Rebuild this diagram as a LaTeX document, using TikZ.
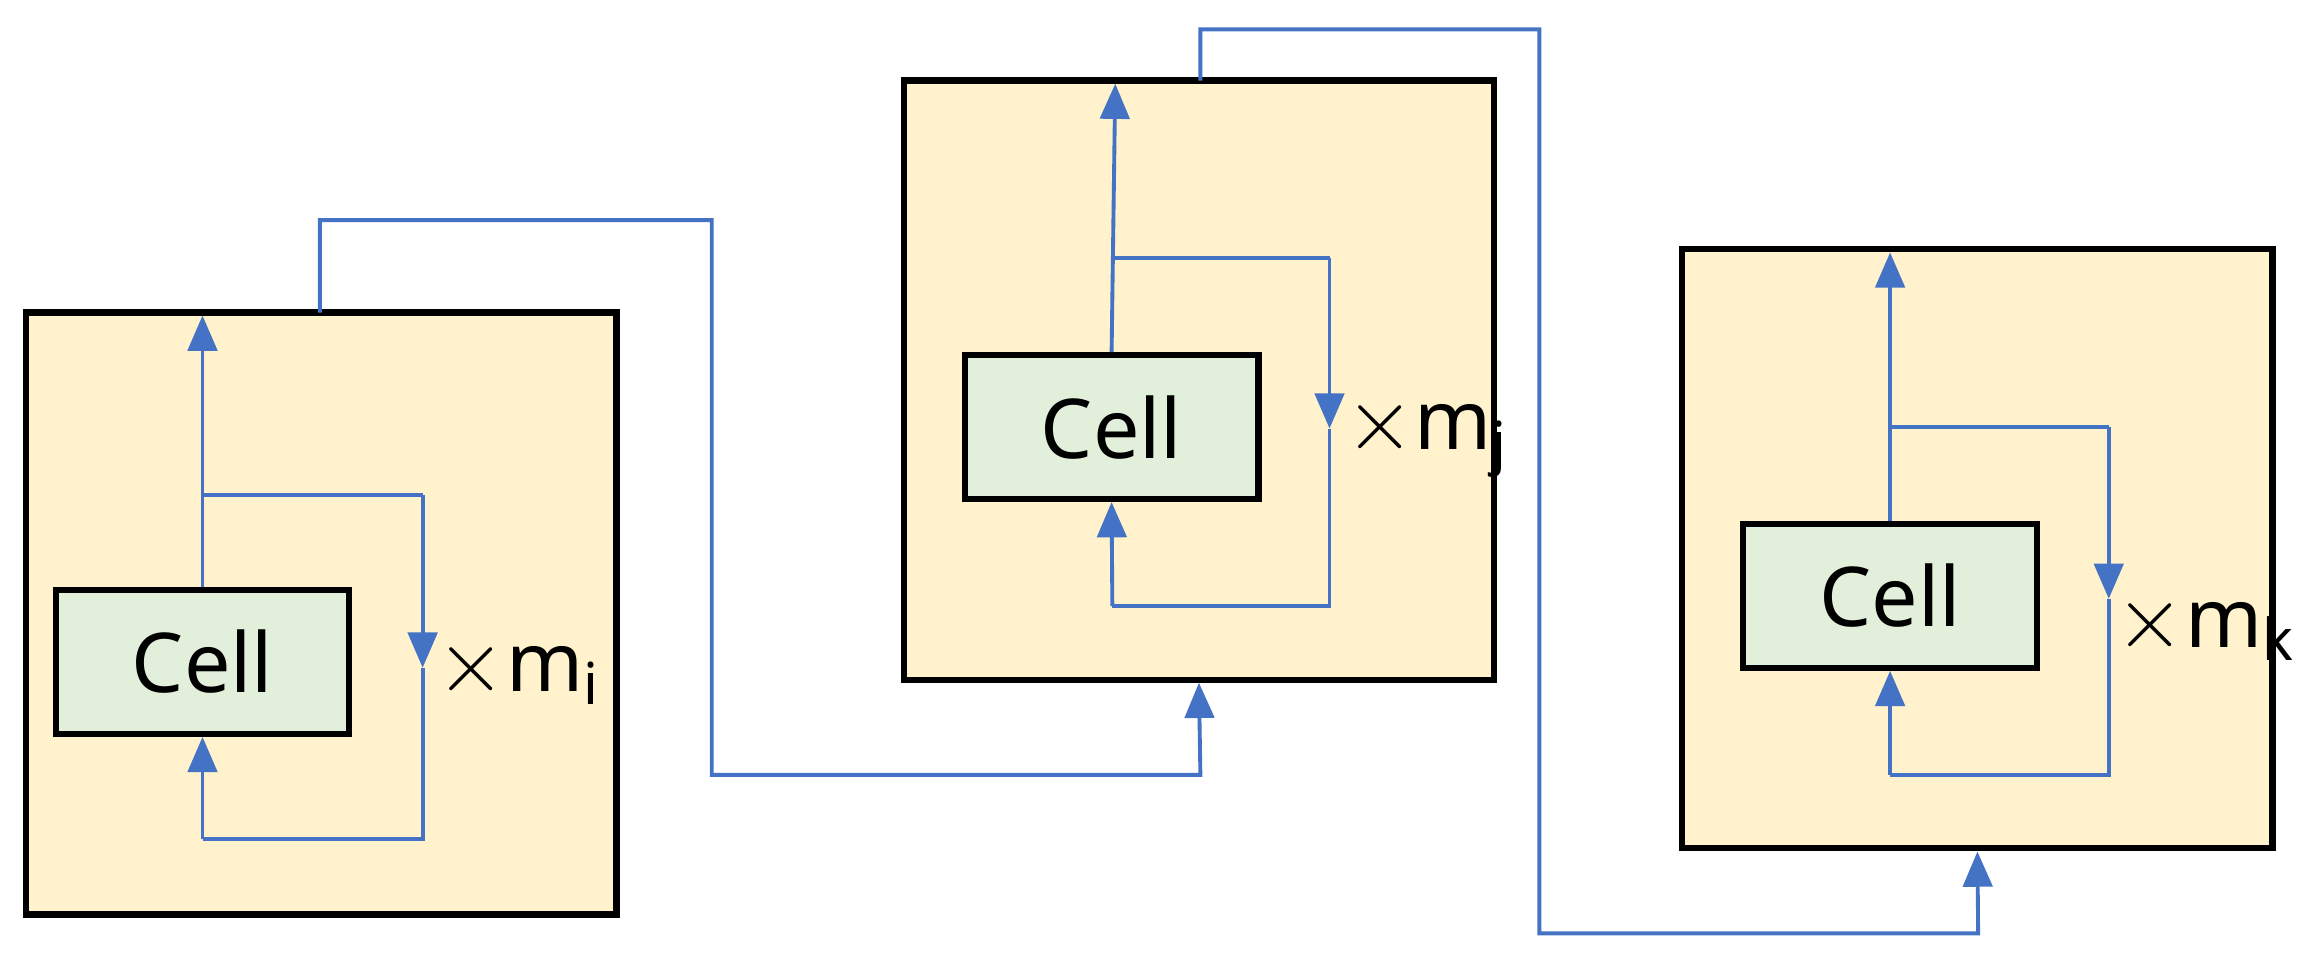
\documentclass[tikz,border=0pt]{standalone}
\usepackage{fontspec}
\setmainfont{Noto Sans}
\usetikzlibrary{arrows.meta}
\definecolor{boxfill}{HTML}{FFF2CC}
\definecolor{cellfill}{HTML}{E2EFDA}
\definecolor{linkblue}{HTML}{4472C4}
\tikzset{
  block/.style={draw=black, line width=1.2pt, fill=boxfill, minimum width=4.02cm, minimum height=4.10cm, inner sep=0pt},
  cell/.style={draw=black, line width=1.2pt, fill=cellfill, minimum width=2.0cm, minimum height=0.98cm, inner sep=0pt, font=\fontsize{16}{19}\selectfont},
  link/.style={draw=linkblue, line width=0.75pt},
  tip/.style={-{Triangle[length=0.24cm,width=0.2cm]}},
  rep/.style={font=\fontsize{16}{19}\selectfont, anchor=west, inner sep=0pt}
}
\begin{document}
\begin{tikzpicture}[x=0.01cm, y=-0.01cm]
\useasboundingbox (0,0) rectangle (1568,656);

% three blocks
\node[block] (blocki) at (219,418) {};
\node[block, minimum height=4.08cm] (blockj) at (817,259) {};
\node[block, minimum height=4.08cm] (blockk) at (1347.5,374) {};

% cells
\node[cell] (celli) at (138,451) {Cell};
\node[cell] (cellj) at (757.5,291) {Cell};
\node[cell] (cellk) at (1288,406) {Cell};

% labels
\node[rep] (repi) at (297,458) {$\times$m\textsubscript{i}};
\node[rep] (repj) at (916,298) {$\times$m\textsubscript{j}};
\node[rep] (repk) at (1441,428) {$\times$m\textsubscript{k}};

% loop of block i
\coordinate (brI) at (138,337);
\draw[link, tip] (celli.north) -- (138,215);
\draw[link] (brI) -- (288,337);
\draw[link, tip] (288,337) -- (288,455);
\draw[link] (288,455) -- (288,572) -- (138,572);
\draw[link, tip] (138,572) -- (celli.south);

% loop of block j
\draw[link, tip] (cellj.north) -- (760,57);
\draw[link] (758,176) -- (906,176);
\draw[link, tip] (906,176) -- (906,292);
\draw[link] (906,292) -- (906,413) -- (758,413);
\draw[link, tip] (758,413) -- (cellj.south);

% loop of block k
\draw[link, tip] (cellk.north) -- (1288,172);
\draw[link] (1288,291) -- (1437,291);
\draw[link, tip] (1437,291) -- (1437,408);
\draw[link] (1437,408) -- (1437,528) -- (1288,528);
\draw[link, tip] (1288,528) -- (cellk.south);

% links between blocks
\draw[link, tip] (218,213) -- (218,150) -- (485,150) -- (485,528) -- (818,528) -- (blockj.south);
\draw[link, tip] (818,55) -- (818,20) -- (1049,20) -- (1049,636) -- (1348,636) -- (blockk.south);
\end{tikzpicture}
\end{document}
